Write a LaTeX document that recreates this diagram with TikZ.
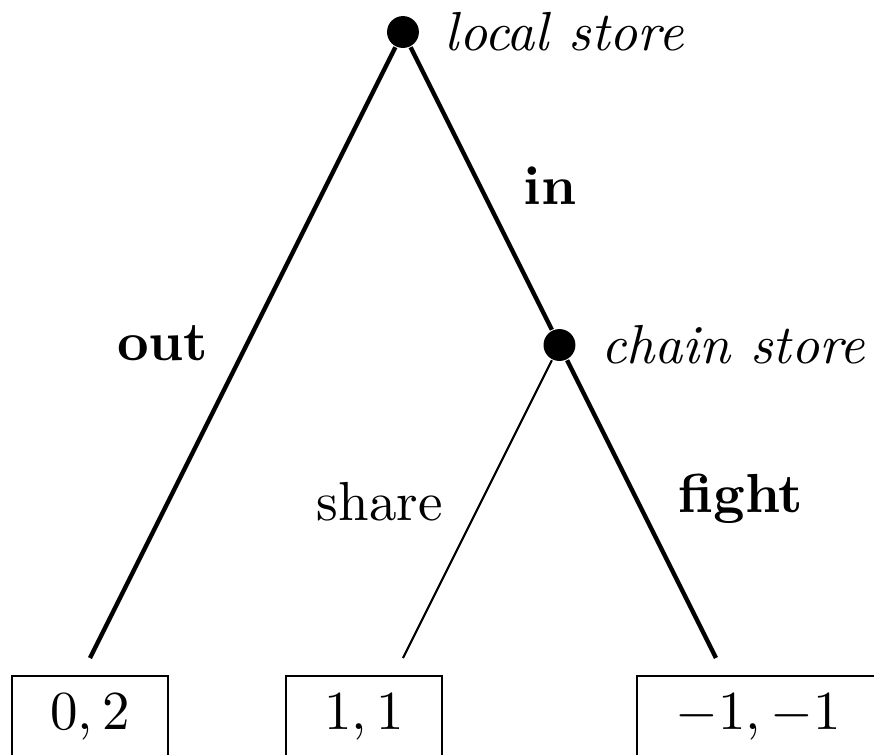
\documentclass[tikz,border=0pt]{standalone}
\usepackage{amsmath}
\usetikzlibrary{positioning}

\begin{document}
\begin{tikzpicture}[x=1cm, y=1cm,
    dot/.style={circle, fill=black, inner sep=0pt, minimum size=5.8pt},
    payoff/.style={draw, inner xsep=7pt, inner ysep=3.4pt},
    player/.style={font=\itshape, label distance=1pt}]
      \useasboundingbox (-2.575,0.2045) rectangle (3.010,-4.614);

      % Decision nodes
      \node[dot, label={[player]right:local store}] (root) at (0,0) {};
      \node[dot, label={[player]right:chain store}] (chain) at (1,-2) {};

      % Ends of the branches
      \coordinate (outend) at (-2,-4);
      \coordinate (shareend) at (0,-4);
      \coordinate (fightend) at (2,-4);

      % Branches
      \draw[thick] (root) -- node[midway, left=2.5pt, yshift=1.8pt] {\textbf{out}} (outend);
      \draw[thick] (root) -- node[midway, right=4pt, yshift=0.5pt] {\textbf{in}} (chain);
      \draw (chain) -- node[midway, left=2.8pt, yshift=1.3pt] {share} (shareend);
      \draw[thick] (chain) -- node[midway, right=3pt, yshift=1.8pt] {\textbf{fight}} (fightend);

      % Payoffs
      \node[payoff, below=3pt of outend] (outpay) {$0,2$};
      \node[payoff, below=3pt of shareend, xshift=-0.25cm] (sharepay) {$1,1$};
      \node[payoff, below=3pt of fightend, xshift=0.27cm] (fightpay) {$-1,-1$};
    \end{tikzpicture}
\end{document}
